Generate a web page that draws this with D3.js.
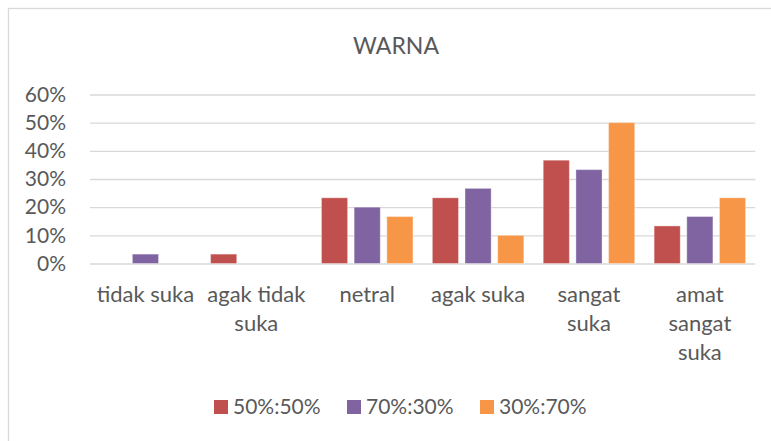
<!DOCTYPE html>
<html>
<head>
<meta charset="utf-8">
<script src="https://cdn.jsdelivr.net/npm/d3@7"></script>
<style>
  body { margin: 0; background: #fff; }
  text { font-family: Lato, "Open Sans", sans-serif; fill: #595959; }
</style>
</head>
<body>
<svg id="chart"></svg>
<script>
const categories = ["tidak suka", "agak tidak suka", "netral", "agak suka", "sangat suka", "amat sangat suka"];
const categoryLines = [["tidak suka"], ["agak tidak", "suka"], ["netral"], ["agak suka"], ["sangat", "suka"], ["amat", "sangat", "suka"]];
const series = ["50%:50%", "70%:30%", "30%:70%"];
const values5050 = [0, 0.0333, 0.2333, 0.2333, 0.3667, 0.1333];
const values7030 = [0.0333, 0, 0.2, 0.2667, 0.3333, 0.1667];
const values3070 = [0, 0, 0.1667, 0.1, 0.5, 0.2333];
const yTicks = [0, 0.1, 0.2, 0.3, 0.4, 0.5, 0.6];
const colours = ["#C0504D", "#8064A2", "#F79646"];

const seriesValues = [values5050, values7030, values3070];
const data = categories.map((c, i) => ({
  category: c,
  lines: categoryLines[i],
  values: series.map((s, j) => ({ series: s, value: seriesValues[j][i] }))
}));

const width = 771, height = 441;
const margin = { top: 94.5, right: 15.7, bottom: 177.5, left: 90 };
const innerW = width - margin.left - margin.right;
const innerH = height - margin.top - margin.bottom;

const svg = d3.select("#chart").attr("width", width).attr("height", height);

// outer chart border (runs off the bottom/right edge)
svg.append("rect")
  .attr("x", 8.5).attr("y", 8.5)
  .attr("width", 800).attr("height", 500)
  .attr("fill", "none")
  .attr("stroke", "#d9d9d9")
  .attr("stroke-width", 1.3);

svg.append("text")
  .attr("x", 396)
  .attr("y", 53.5)
  .style("text-anchor", "middle")
  .style("font-size", "23px")
  .text("WARNA");

const chart = svg.append("g").attr("transform", `translate(${margin.left}, ${margin.top})`);

const x0 = d3.scaleBand().domain(categories).range([0, innerW]).padding(0);
const bw = x0.bandwidth();
const groupW = bw * 0.825;
const x1 = d3.scaleBand().domain(series)
  .range([(bw - groupW) / 2, (bw + groupW) / 2])
  .paddingInner(0.2).paddingOuter(0);
const y = d3.scaleLinear().domain([0, 0.6]).range([innerH, 0]);
const colour = d3.scaleOrdinal().domain(series).range(colours);

// gridlines + y labels
const yAxis = d3.axisLeft(y)
  .tickValues(yTicks)
  .tickSize(-innerW)
  .tickPadding(24)
  .tickFormat(d3.format(".0%"));

chart.append("g")
  .call(yAxis)
  .call(g => g.select(".domain").remove())
  .call(g => g.selectAll(".tick line").attr("stroke", "#d9d9d9").attr("stroke-width", 1.3))
  .call(g => g.selectAll(".tick text")
    .attr("fill", "#595959")
    .style("font-family", "Lato, sans-serif")
    .style("font-size", "21px"));

// bars
chart.selectAll(".group")
  .data(data)
  .enter()
  .append("g")
  .attr("class", "group")
  .attr("transform", d => `translate(${x0(d.category)}, 0)`)
  .selectAll("rect")
  .data(d => d.values.filter(v => v.value > 0))
  .enter()
  .append("rect")
  .attr("x", d => x1(d.series))
  .attr("width", x1.bandwidth())
  .attr("y", d => y(d.value))
  .attr("height", d => innerH - y(d.value))
  .attr("fill", d => colour(d.series))
  .attr("stroke", "#fff")
  .attr("stroke-opacity", 0.35)
  .attr("stroke-width", 1);

// category labels
const xAxis = d3.axisBottom(x0).tickSize(0).tickFormat("");
const xg = chart.append("g")
  .attr("transform", `translate(0, ${innerH})`)
  .call(xAxis)
  .call(g => g.select(".domain").remove());

xg.selectAll(".tick")
  .each(function(c, i) {
    const t = d3.select(this).append("text")
      .attr("y", 38.5)
      .attr("fill", "#595959")
      .style("text-anchor", "middle")
      .style("font-family", "Lato, sans-serif")
      .style("font-size", "22px");
    categoryLines[i].forEach((line, k) => {
      t.append("tspan").attr("x", 0).attr("y", 38.5 + k * 29).text(line);
    });
  });

// legend
const legendX = [214, 347, 480];
const legend = svg.append("g").attr("class", "legend");
series.forEach((s, i) => {
  legend.append("rect")
    .attr("x", legendX[i]).attr("y", 400)
    .attr("width", 14).attr("height", 14)
    .attr("fill", colour(s));
  legend.append("text")
    .attr("x", legendX[i] + 19)
    .attr("y", 414)
    .style("font-size", "21px")
    .text(s);
});
</script>
</body>
</html>
